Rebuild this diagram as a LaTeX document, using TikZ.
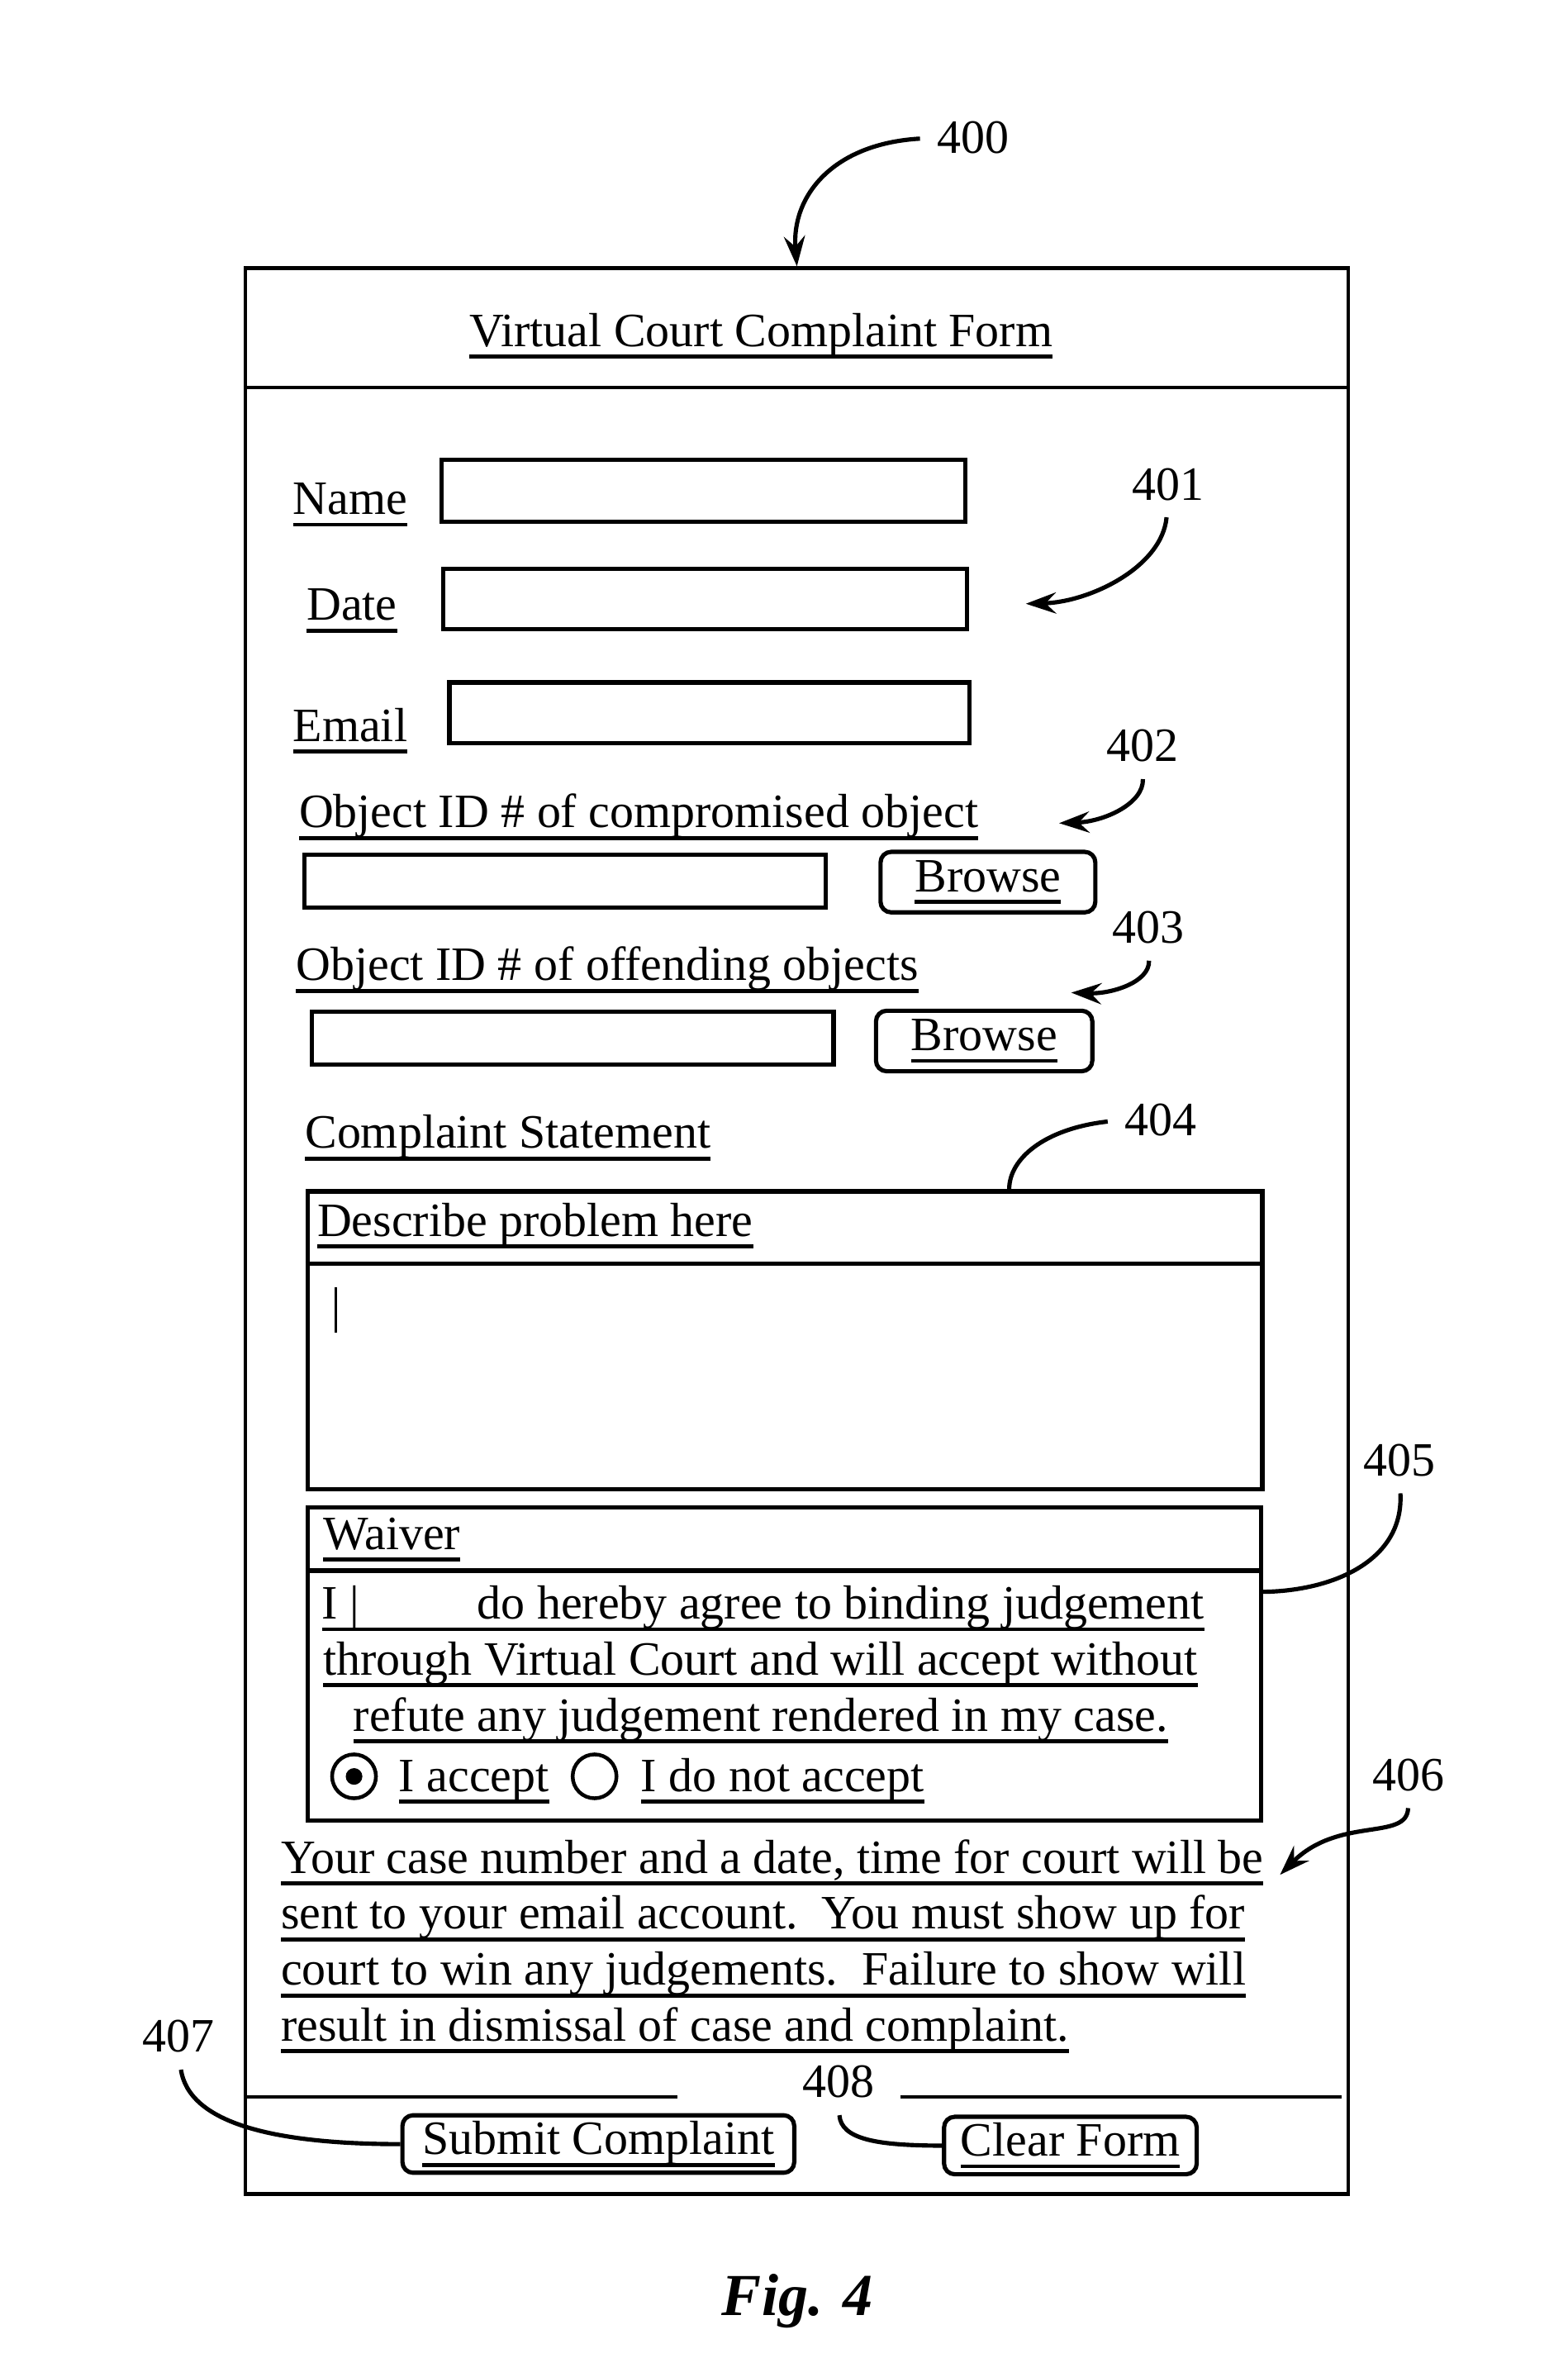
\documentclass[tikz,border=0pt]{standalone}
\usepackage{fontspec}
\setmainfont{Liberation Serif}
\usetikzlibrary{arrows.meta,positioning}

\newsavebox{\undlbox}
\newcommand{\undl}[1]{\sbox{\undlbox}{#1}\rlap{\raisebox{-2.3pt}{\rule{\wd\undlbox}{0.75pt}}}\usebox{\undlbox}}

\begin{document}
\begin{tikzpicture}[scale=0.1,
    every node/.style={inner sep=0pt, font=\fontsize{9.0}{10.8}\selectfont},
    txt/.style={anchor=base west},
    field/.style={draw, line width=0.8pt},
    btn/.style={draw, line width=0.8pt, rounded corners=2pt},
    radio/.style={draw, circle, line width=0.7pt, minimum size=0.29cm},
    lead/.style={line width=0.8pt, shorten <=3pt},
    arr/.style={lead, -{Stealth[length=2mm, width=1.4mm, inset=0.7mm]}}]
    \useasboundingbox (0,0) rectangle (103.6,-157.1);
    % outer form and title
    \node[draw, line width=0.7pt, minimum width=7.29cm, minimum height=12.73cm, anchor=north west] (form) at (16.1,-17.6) {};
    \draw[line width=0.7pt] (16.1,-25.6) -- (89.0,-25.6);
    \node[anchor=base] (title) at (50.3,-22.9) {\undl{Virtual Court Complaint Form}};
    % personal data
    \node[txt] (namelbl) at (19.3,-34.0) {\undl{Name}};
    \node[field, minimum width=3.46cm, minimum height=0.41cm] (namebox) at (46.5,-32.45) {};
    \node[txt] (datelbl) at (20.2,-41.0) {\undl{Date}};
    \node[field, minimum width=3.46cm, minimum height=0.40cm] (datebox) at (46.6,-39.6) {};
    \node[txt] (maillbl) at (19.3,-49.0) {\undl{Email}};
    \node[field, minimum width=3.44cm, minimum height=0.40cm] (mailbox) at (46.9,-47.1) {};
    % object ids
    \node[txt] (obj1lbl) at (19.7,-54.7) {\undl{Object ID \# of compromised object}};
    \node[field, minimum width=3.45cm, minimum height=0.35cm] (obj1box) at (37.35,-58.25) {};
    \node[btn, minimum width=1.42cm, minimum height=0.40cm] (browse1) at (65.3,-58.3) {\undl{Browse}};
    \node[txt] (obj2lbl) at (19.5,-64.8) {\undl{Object ID \# of offending objects}};
    \node[field, minimum width=3.45cm, minimum height=0.35cm] (obj2box) at (37.85,-68.6) {};
    \node[btn, minimum width=1.43cm, minimum height=0.40cm] (browse2) at (65.05,-68.8) {\undl{Browse}};
    % complaint statement
    \node[txt] (stmtlbl) at (20.1,-75.9) {\undl{Complaint Statement}};
    \node[field, minimum width=6.31cm, minimum height=1.97cm, anchor=north west] (descbox) at (20.2,-78.6) {};
    \draw[line width=0.8pt] (20.2,-83.5) -- (83.3,-83.5);
    \node[txt] (desclbl) at (20.9,-81.7) {\undl{Describe problem here}};
    \draw (22.2,-85.1) -- (22.2,-88.1);
    % waiver
    \node[field, minimum width=6.30cm, minimum height=2.07cm, anchor=north west] (waivbox) at (20.2,-99.5) {};
    \draw[line width=0.8pt] (20.2,-103.8) -- (83.2,-103.8);
    \node[txt] (waivlbl) at (21.3,-102.4) {\undl{Waiver}};
    \node[txt] (wv1) at (21.2,-107.0) {\undl{I \textbar\hspace{0.78cm}do hereby agree to binding judgement}};
    \node[txt] (wv2) at (21.3,-110.7) {\undl{through Virtual Court and will accept without}};
    \node[txt] (wv3) at (23.3,-114.4) {\undl{refute any judgement rendered in my case.}};
    \node[radio] (acc) at (23.4,-117.4) {};
    \fill (acc) circle (0.55);
    \node[txt] (acclbl) at (26.3,-118.4) {\undl{I accept}};
    \node[radio] (rej) at (39.3,-117.4) {};
    \node[txt] (rejlbl) at (42.3,-118.4) {\undl{I do not accept}};
    % notice
    \node[txt] (nt1) at (18.5,-123.8) {\undl{Your case number and a date, time for court will be}};
    \node[txt] (nt2) at (18.5,-127.5) {\undl{sent to your email account.\ \ You must show up for}};
    \node[txt] (nt3) at (18.5,-131.2) {\undl{court to win any judgements.\ \ Failure to show will}};
    \node[txt] (nt4) at (18.5,-134.9) {\undl{result in dismissal of case and complaint.}};
    % buttons
    \draw[line width=0.7pt] (16.1,-138.6) -- (44.8,-138.6);
    \draw[line width=0.7pt] (59.5,-138.6) -- (88.7,-138.6);
    \node[btn, minimum width=2.59cm, minimum height=0.38cm] (submit) at (39.55,-141.7) {\undl{Submit Complaint}};
    \node[btn, minimum width=1.67cm, minimum height=0.38cm] (clear) at (70.75,-141.8) {\undl{Clear Form}};
    % reference numerals
    \node (l400) at (64.3,-9.1) {400};
    \node (l401) at (77.2,-32.0) {401};
    \node (l402) at (75.5,-49.3) {402};
    \node (l403) at (75.9,-61.3) {403};
    \node (l404) at (76.7,-74.0) {404};
    \node (l405) at (92.5,-96.5) {405};
    \node (l406) at (93.1,-117.3) {406};
    \node (l407) at (11.8,-134.6) {407};
    \node (l408) at (55.4,-137.6) {408};
    \coordinate (t401) at (67.8,-39.9);
    \coordinate (t402) at (70.0,-54.4);
    \coordinate (t403) at (70.8,-65.6);
    \coordinate (t404) at (66.7,-78.6);
    \coordinate (t405) at (83.3,-105.2);
    \coordinate (t406) at (84.6,-123.9);
    \draw[arr] (l400.west) .. controls (55,-9.5) and (52.3,-13) .. (form.north);
    \draw[arr] (l401.south) .. controls (76.8,-37.5) and (72,-39.8) .. (t401);
    \draw[arr] (l402.south) .. controls (75.6,-53.1) and (73,-54.3) .. (t402);
    \draw[arr] (l403.south) .. controls (76,-64.9) and (73.5,-65.7) .. (t403);
    \draw[lead] (l404.west) .. controls (69,-74.6) and (66.7,-76.6) .. (t404);
    \draw[lead] (l405.south) .. controls (92.8,-103.2) and (88,-105.2) .. (t405);
    \draw[arr] (l406.south) .. controls (93,-121.7) and (88.5,-120) .. (t406);
    \draw[lead] (l407.south) .. controls (12.5,-140.3) and (18,-141.7) .. (submit.west);
    \draw[lead] (l408.south) .. controls (55.6,-141.4) and (58,-141.8) .. (clear.west);
    % caption
    \node[font=\fontsize{11.2}{13.4}\selectfont\bfseries\itshape] (fig) at (52.7,-152.1) {Fig. 4};
\end{tikzpicture}
\end{document}
